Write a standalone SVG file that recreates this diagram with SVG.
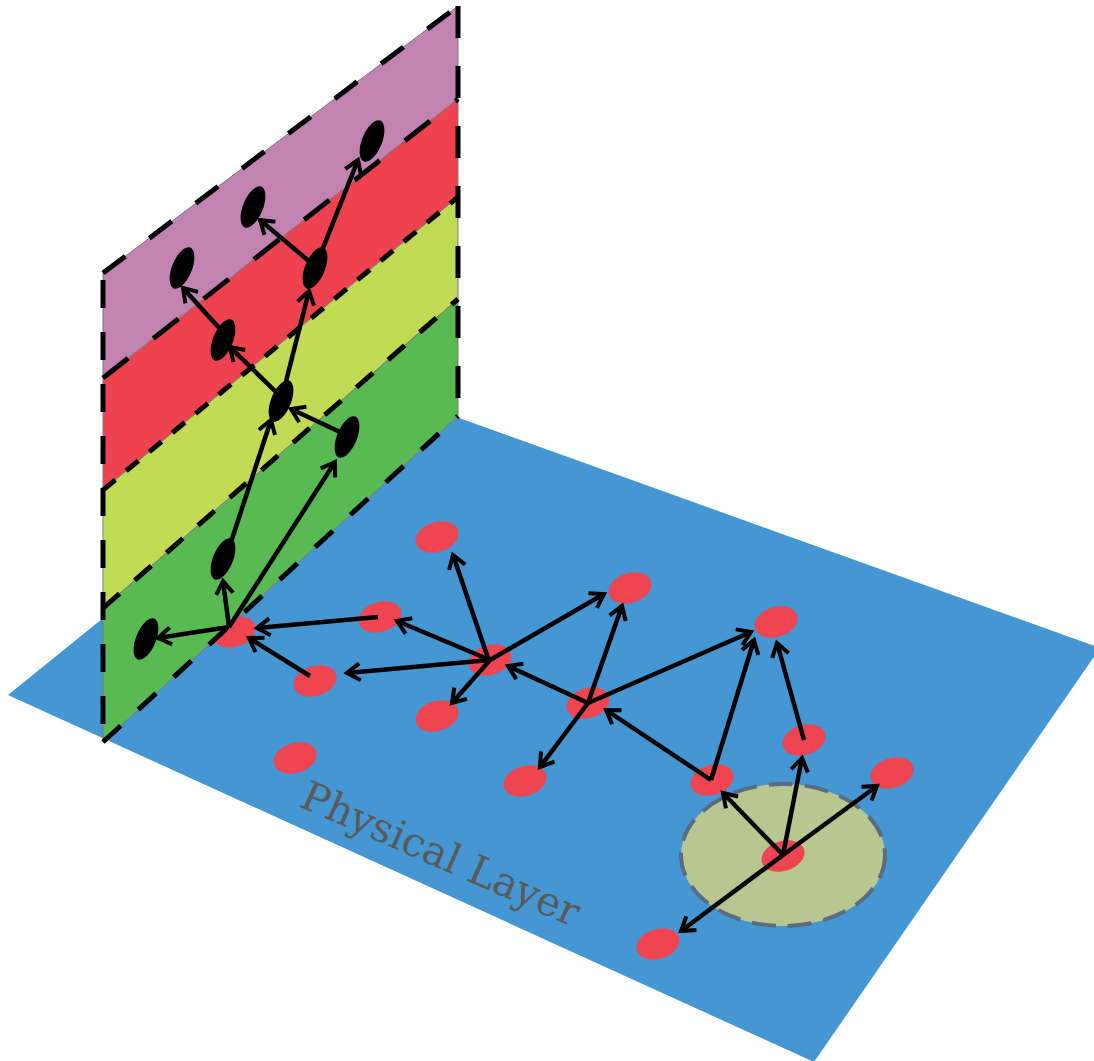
<svg xmlns="http://www.w3.org/2000/svg" width="1094" height="1061" viewBox="0 0 1094 1061">
<style>
.band{stroke:#7a7a7a;stroke-width:1}
.dash{fill:none;stroke:#000;stroke-width:5}
.rn{fill:#ef4452}
.bn{fill:#000}
.arr{fill:none;stroke:#000;stroke-width:4.5;marker-end:url(#ah)}
.lbl{font-family:"DejaVu Serif","Liberation Serif",serif;font-size:40.5px;fill:#5a5a5a}
</style>
<defs>
<marker id="ah" markerUnits="userSpaceOnUse" markerWidth="22" markerHeight="22" viewBox="0 0 22 22" refX="18" refY="11" orient="auto">
<path d="M5,2.5 L18,11 L5,19.5" fill="none" stroke="#000" stroke-width="4"/>
</marker>
</defs>
<g id="physical-plane">
<polygon points="8,695 384,391 1100,648 814,1062" fill="#4497d3"/>
<text class="lbl" x="298" y="806" transform="rotate(23.8 298 806)">Physical Layer</text>
</g>
<g id="range-circle">
<ellipse cx="783" cy="855" rx="102" ry="71" fill="#b8c68f" stroke="#5b6b80" stroke-width="4" stroke-dasharray="24 12"/>
</g>
<g id="physical-nodes">
<ellipse id="pA" class="rn" cx="234" cy="632" rx="22" ry="15" transform="rotate(-17 234 632)"/>
<ellipse id="pB" class="rn" cx="380" cy="617" rx="22" ry="15" transform="rotate(-17 380 617)"/>
<ellipse id="pC" class="rn" cx="315" cy="681" rx="22" ry="15" transform="rotate(-17 315 681)"/>
<ellipse id="pD" class="rn" cx="437" cy="537" rx="22" ry="15" transform="rotate(-17 437 537)"/>
<ellipse id="pE" class="rn" cx="437" cy="716" rx="22" ry="15" transform="rotate(-17 437 716)"/>
<ellipse id="pF" class="rn" cx="295" cy="758" rx="22" ry="15" transform="rotate(-17 295 758)"/>
<ellipse id="pG" class="rn" cx="490" cy="660" rx="22" ry="15" transform="rotate(-17 490 660)"/>
<ellipse id="pH" class="rn" cx="630" cy="588" rx="22" ry="15" transform="rotate(-17 630 588)"/>
<ellipse id="pI" class="rn" cx="588" cy="703" rx="22" ry="15" transform="rotate(-17 588 703)"/>
<ellipse id="pJ" class="rn" cx="525" cy="781" rx="22" ry="15" transform="rotate(-17 525 781)"/>
<ellipse id="pK" class="rn" cx="776" cy="622" rx="22" ry="15" transform="rotate(-17 776 622)"/>
<ellipse id="pL" class="rn" cx="712" cy="780" rx="22" ry="15" transform="rotate(-17 712 780)"/>
<ellipse id="pM" class="rn" cx="804" cy="740" rx="22" ry="15" transform="rotate(-17 804 740)"/>
<ellipse id="pN" class="rn" cx="892" cy="773" rx="22" ry="15" transform="rotate(-17 892 773)"/>
<ellipse id="pO" class="rn" cx="783" cy="856" rx="22" ry="15" transform="rotate(-17 783 856)"/>
<ellipse id="pP" class="rn" cx="658" cy="944" rx="22" ry="15" transform="rotate(-17 658 944)"/>
</g>
<g id="overlay-plane">
<polygon class="band" points="103,273 458,6 458,99 103,378" fill="#c283b3"/>
<polygon class="band" points="103,378 458,99 458,197 103,490" fill="#ef4250"/>
<polygon class="band" points="103,490 458,197 458,299 103,608" fill="#c3da55"/>
<polygon class="band" points="103,608 458,299 458,416 103,742" fill="#59b952"/>
<line class="dash" x1="103" y1="273" x2="458" y2="6" stroke-dasharray="28 30"/>
<line class="dash" x1="103" y1="378" x2="458" y2="99" stroke-dasharray="32 32"/>
<line class="dash" x1="103" y1="490" x2="458" y2="197" stroke-dasharray="16 14"/>
<line class="dash" x1="103" y1="608" x2="458" y2="299" stroke-dasharray="22 20"/>
<line class="dash" x1="103" y1="742" x2="458" y2="416" stroke-dasharray="24 24"/>
<line class="dash" x1="103" y1="280" x2="103" y2="744" stroke-width="5.5" stroke-dasharray="28 24"/>
<line class="dash" x1="458" y1="6" x2="458" y2="416" stroke-width="5.5" stroke-dasharray="32 28"/>
</g>
<g id="overlay-nodes">
<ellipse id="v1" class="bn" cx="372" cy="141" rx="10" ry="22" transform="rotate(22 372 141)"/>
<ellipse id="v2" class="bn" cx="253" cy="207" rx="10" ry="22" transform="rotate(22 253 207)"/>
<ellipse id="v3" class="bn" cx="182" cy="268" rx="10" ry="22" transform="rotate(22 182 268)"/>
<ellipse id="v4" class="bn" cx="315" cy="268" rx="10" ry="22" transform="rotate(22 315 268)"/>
<ellipse id="v5" class="bn" cx="223" cy="340" rx="10" ry="22" transform="rotate(22 223 340)"/>
<ellipse id="v6" class="bn" cx="281" cy="401" rx="10" ry="22" transform="rotate(22 281 401)"/>
<ellipse id="v7" class="bn" cx="347" cy="437" rx="10" ry="22" transform="rotate(22 347 437)"/>
<ellipse id="v8" class="bn" cx="223" cy="559" rx="10" ry="22" transform="rotate(22 223 559)"/>
<ellipse id="v9" class="bn" cx="146" cy="639" rx="10" ry="22" transform="rotate(22 146 639)"/>
</g>
<g id="connectors">
<line class="arr" x1="281" y1="401" x2="309" y2="291"/>
<line class="arr" x1="315" y1="268" x2="358" y2="160"/>
<line class="arr" x1="310" y1="262" x2="260" y2="220"/>
<line class="arr" x1="276" y1="392" x2="230" y2="347"/>
<line class="arr" x1="221" y1="330" x2="183" y2="288"/>
<line class="arr" x1="340" y1="432" x2="291" y2="409"/>
<line class="arr" x1="229" y1="627" x2="223" y2="581"/>
<line class="arr" x1="230" y1="545" x2="271" y2="420"/>
<line class="arr" x1="229" y1="627" x2="335" y2="462"/>
<line class="arr" x1="229" y1="627" x2="158" y2="638"/>
<line class="arr" x1="378" y1="617" x2="257" y2="628"/>
<line class="arr" x1="310" y1="676" x2="249" y2="638"/>
<line class="arr" x1="490" y1="660" x2="397" y2="621"/>
<line class="arr" x1="490" y1="660" x2="347" y2="673"/>
<line class="arr" x1="488" y1="658" x2="453" y2="555"/>
<line class="arr" x1="490" y1="660" x2="452" y2="703"/>
<line class="arr" x1="490" y1="660" x2="604" y2="594"/>
<line class="arr" x1="588" y1="703" x2="508" y2="666"/>
<line class="arr" x1="588" y1="703" x2="622" y2="606"/>
<line class="arr" x1="588" y1="703" x2="540" y2="767"/>
<line class="arr" x1="588" y1="703" x2="751" y2="632"/>
<line class="arr" x1="711" y1="780" x2="606" y2="710"/>
<line class="arr" x1="711" y1="780" x2="754" y2="640"/>
<line class="arr" x1="804" y1="740" x2="777" y2="643"/>
<line class="arr" x1="783" y1="855" x2="723" y2="793"/>
<line class="arr" x1="783" y1="855" x2="802" y2="758"/>
<line class="arr" x1="783" y1="855" x2="877" y2="786"/>
<line class="arr" x1="783" y1="855" x2="681" y2="931"/>
</g>
</svg>
